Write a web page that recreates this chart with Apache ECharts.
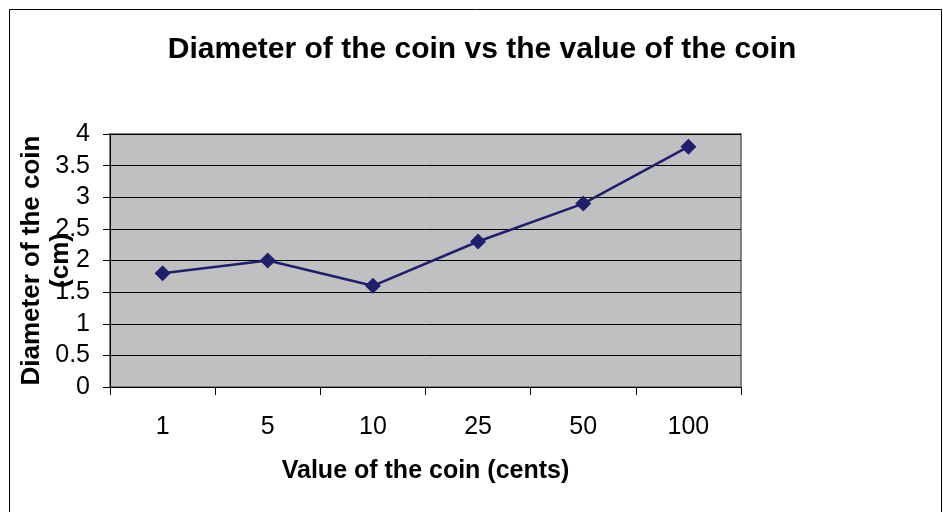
<!DOCTYPE html>
<html>
<head>
<meta charset="utf-8">
<script src="https://cdn.jsdelivr.net/npm/echarts@6/dist/echarts.min.js"></script>
<style>
  html, body { margin: 0; padding: 0; background: #fff; }
  #myChart { width: 943px; height: 512px; }
</style>
</head>
<body>
<div id="myChart"></div>
<script>
// coin values (cents) and diameters (cm)
const categories = ["1", "5", "10", "25", "50", "100"];
const diameters = [1.8, 2.0, 1.6, 2.3, 2.9, 3.8];

const font = "'Liberation Sans', Arial, sans-serif";
const chart = echarts.init(document.getElementById("myChart"));
chart.setOption({
  backgroundColor: "#fff",
  animation: false,
  title: {
    text: "Diameter of the coin vs the value of the coin",
    left: 477,
    top: 30,
    textAlign: "center",
    textStyle: { fontFamily: font, fontSize: 30, fontWeight: "bold", color: "#000" }
  },
  graphic: [
    {
      type: "rect",
      shape: { x: 9.5, y: 9.5, width: 932, height: 520 },
      style: { fill: null, stroke: "#000", lineWidth: 1 },
      silent: true
    }
  ],
  grid: {
    left: 110,
    top: 134,
    right: 202,
    bottom: 125,
    outerBoundsMode: "none",
    containLabel: false,
    show: true,
    backgroundColor: "#c0c0c0",
    borderColor: "#808080",
    borderWidth: 2
  },
  xAxis: {
    type: "category",
    data: categories,
    boundaryGap: true,
    name: "Value of the coin (cents)",
    nameLocation: "middle",
    nameGap: 72,
    nameMoveOverlap: false,
    nameTextStyle: { fontFamily: font, fontSize: 25, fontWeight: "bold", color: "#000" },
    axisLine: { lineStyle: { color: "#000", width: 1 } },
    axisTick: { show: true, alignWithLabel: false, length: 8, lineStyle: { color: "#000" } },
    axisLabel: { fontFamily: font, fontSize: 25, color: "#000", margin: 28 },
    splitLine: { show: false }
  },
  yAxis: {
    type: "value",
    min: 0,
    max: 4,
    interval: 0.5,
    name: "Diameter of the coin\n(cm)",
    nameLocation: "middle",
    nameRotate: 90,
    nameGap: 35,
    nameMoveOverlap: false,
    nameTextStyle: { fontFamily: font, fontSize: 26, fontWeight: "bold", color: "#000", lineHeight: 29 },
    axisLine: { show: true, lineStyle: { color: "#000", width: 1 } },
    axisTick: { show: true, length: 7, lineStyle: { color: "#000" } },
    axisLabel: { fontFamily: font, fontSize: 25, color: "#000", margin: 20 },
    splitLine: { show: true, lineStyle: { color: "#000", width: 1 } }
  },
  series: [
    {
      type: "line",
      data: diameters,
      symbol: "diamond",
      symbolSize: 16,
      itemStyle: { color: "#1f1f70" },
      lineStyle: { color: "#1f1f70", width: 2.5 }
    }
  ]
});
</script>
</body>
</html>
